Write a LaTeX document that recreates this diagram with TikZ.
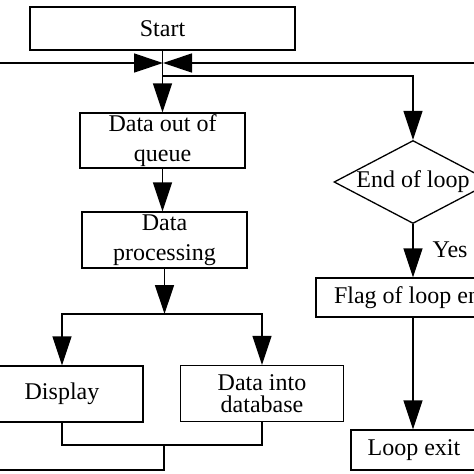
\documentclass[tikz,border=0pt]{standalone}
\usepackage{fontspec}
\setmainfont{Liberation Serif}
\usetikzlibrary{arrows.meta,shapes.geometric}
\begin{document}
\begin{tikzpicture}[x=1pt,y=-1pt,line width=1.3pt,
  txt/.style={font=\fontsize{24}{30}\selectfont},
  box/.style={draw,rectangle,inner sep=0pt,align=center,txt},
  dec/.style={draw,diamond,inner sep=0pt,aspect=1.9,align=center,txt},
  arr/.style={-{Triangle[length=29pt,width=19pt]}}]
\useasboundingbox (0,0) rectangle (474,474);
\clip (0,0) rectangle (474,474);
\node[box,minimum width=265pt,minimum height=43pt] (start) at (162.5,28.5) {Start};
\node[box,minimum width=165pt,minimum height=55pt] (dq) at (162.5,140.5) {Data out of\\queue};
\node[box,minimum width=165pt,minimum height=56pt] (dp) at (164.5,240) {Data\\processing};
\node[box,minimum width=162pt,minimum height=56pt] (disp) at (62,394) {Display};
\node[box,minimum width=163pt,minimum height=56pt,font=\fontsize{24}{22}\selectfont] (db) at (262,393.5) {Data into\\database};
\node[dec,minimum width=158pt,minimum height=83pt] (end) at (413,182) {End of loop};
\node[box,minimum width=194pt,minimum height=39pt] (flag) at (413,297.5) {Flag of loop end};
\node[box,minimum width=126pt,minimum height=40pt] (exit) at (414,450) {Loop exit};
\node[txt,inner sep=0pt,anchor=base west] (yes) at (432,257) {Yes};
\coordinate (j) at (163,63);
\coordinate (b) at (163,76);
\coordinate (s) at (164.5,314);
\coordinate (m) at (164,445);
\coordinate (l1) at (164,470);
\coordinate (l2) at (-30,470);
\coordinate (l3) at (-30,63);
\coordinate (r1) at (510,182);
\coordinate (r2) at (510,63);
\draw[arr] (start.south) -- (dq.north);
\draw[arr] (dq.south) -- (dq.south |- dp.north);
\draw[arr] (dp.south) -- (s);
\draw[arr] (s) -| (disp.north);
\draw[arr] (s) -| (db.north);
\draw (disp.south) |- (m) -| (db.south);
\draw[arr] (m) -- (l1) -- (l2) -- (l3) -- (j);
\draw[arr] (end.east) -- (r1) -- (r2) -- (j);
\draw[arr] (b) -| (end.north);
\draw[arr] (end.south) -- (flag.north);
\draw[arr] (flag.south) -- (flag.south |- exit.north);
\end{tikzpicture}
\end{document}
